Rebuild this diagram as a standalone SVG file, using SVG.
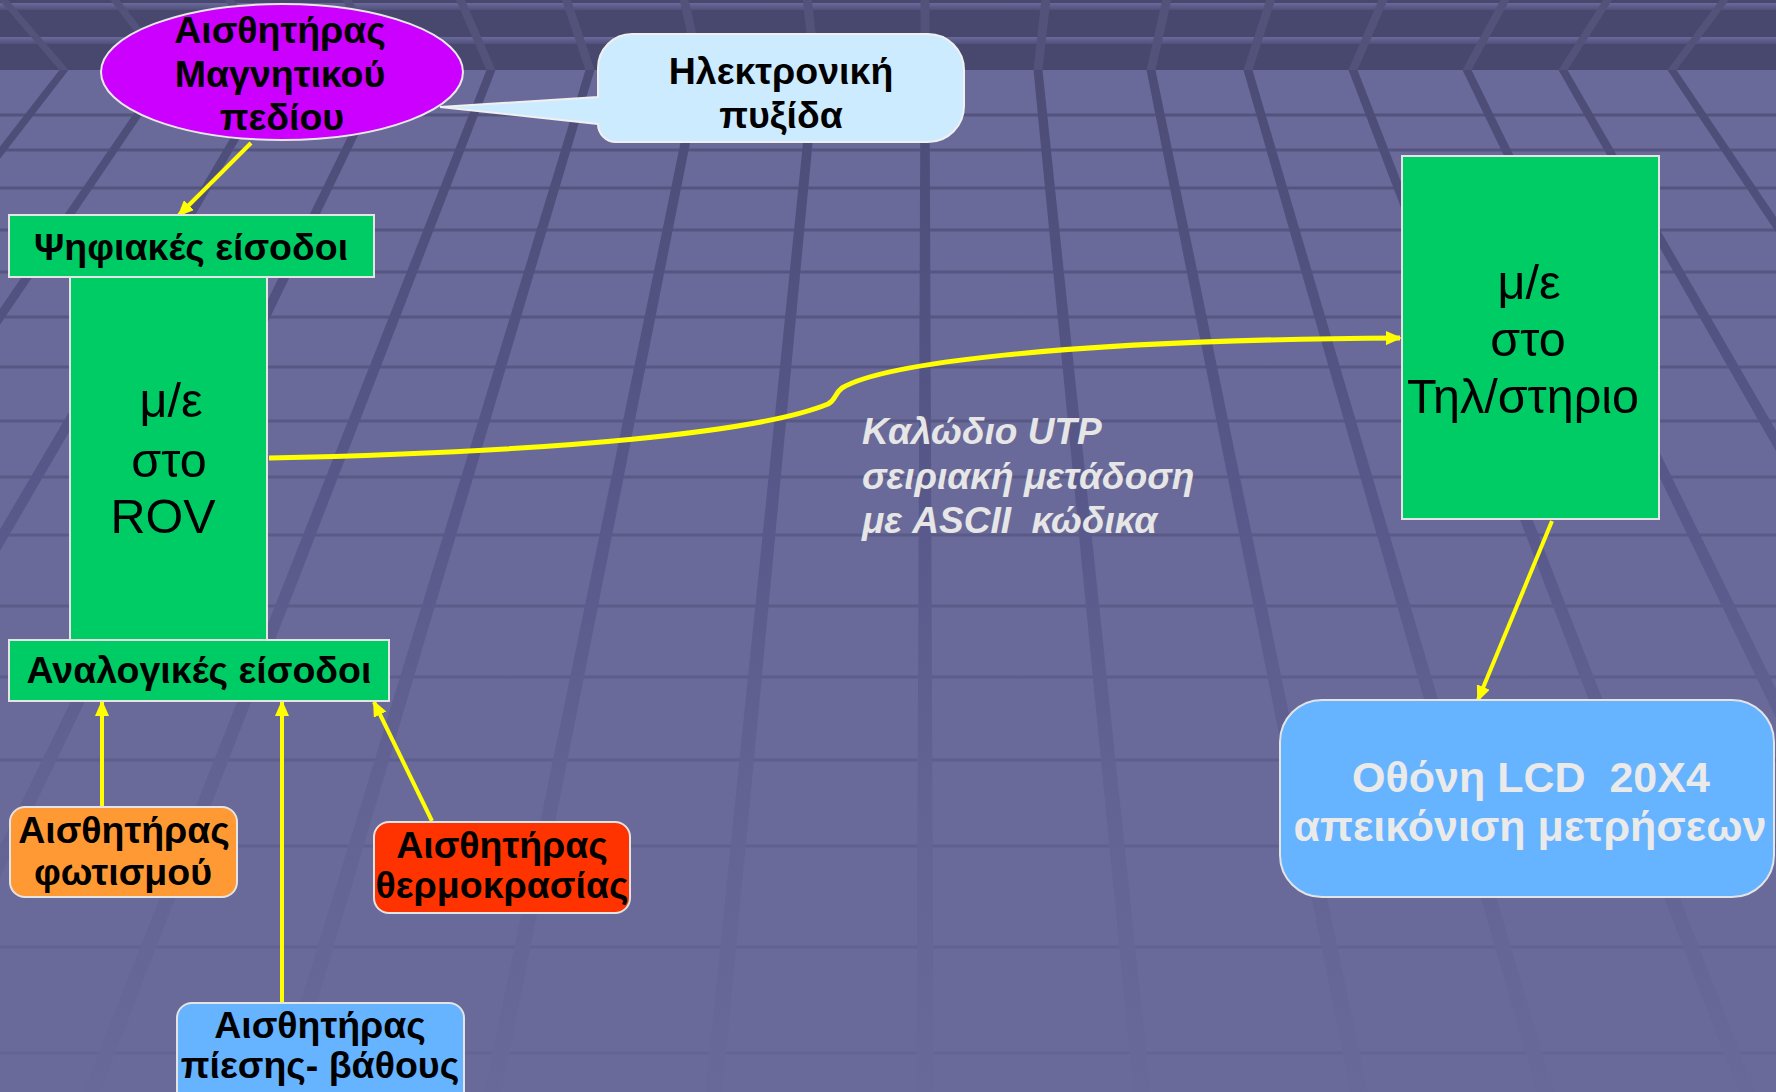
<svg xmlns="http://www.w3.org/2000/svg" width="1776" height="1092" viewBox="0 0 1776 1092">
<defs>
<style>
.b{font-family:"Liberation Sans",Arial,sans-serif;font-weight:bold;font-size:37.5px;text-anchor:middle;fill:#000}
.r{font-family:"Liberation Sans",Arial,sans-serif;font-size:48.5px;text-anchor:middle;fill:#000}
.w{font-family:"Liberation Sans",Arial,sans-serif;font-weight:bold;font-size:43px;text-anchor:middle;fill:#EAEAEA}
.i{font-family:"Liberation Sans",Arial,sans-serif;font-weight:bold;font-style:italic;font-size:37px;fill:#E6E6E6}
.box{stroke:#E4E4E4;stroke-width:2}
.green{fill:#00CC66}
.conn{fill:none;stroke:#FFFF00;stroke-width:4;marker-end:url(#ah)}
.vl{fill:url(#vg)}
.bl{fill:#52527B}
.hl{stroke:url(#hg);stroke-width:3}
</style>
<linearGradient id="vg" gradientUnits="userSpaceOnUse" x1="0" y1="70" x2="0" y2="1092">
<stop offset="0" stop-color="#4C4C76"/>
<stop offset="0.4" stop-color="#575789"/>
<stop offset="0.7" stop-color="#626293"/>
<stop offset="1" stop-color="#686899"/>
</linearGradient>
<linearGradient id="hg" gradientUnits="userSpaceOnUse" x1="0" y1="70" x2="0" y2="1092">
<stop offset="0" stop-color="#52527C"/>
<stop offset="0.5" stop-color="#5B5B89"/>
<stop offset="1" stop-color="#656595"/>
</linearGradient>
<linearGradient id="sg" x1="0" y1="0" x2="0" y2="1">
<stop offset="0" stop-color="#6A6A9C"/>
<stop offset="1" stop-color="#50507A"/>
</linearGradient>
<marker id="ah" markerUnits="userSpaceOnUse" markerWidth="16" markerHeight="14" refX="14" refY="7" orient="auto">
<path d="M0,0 L16,7 L0,14 Z" fill="#FFFF00"/>
</marker>
</defs>

<g id="background">
<rect x="0" y="0" width="1776" height="1092" fill="#6A6A9A"/>
<rect x="0" y="0" width="1776" height="70" fill="#48486F"/>
<rect x="0" y="3" width="1776" height="7" fill="url(#sg)"/>
<rect x="0" y="37" width="1776" height="7" fill="url(#sg)"/>
<g id="band-lines" class="bl">
<polygon points="-0.8,0 8.2,0 68.5,70 59.5,70"/>
<polygon points="110.5,0 119.5,0 172.5,70 163.5,70"/>
<polygon points="225,0 234,0 279.5,70 270.5,70"/>
<polygon points="342.7,0 351.7,0 389.5,70 380.5,70"/>
<polygon points="456,0 465,0 495.5,70 486.5,70"/>
<polygon points="562,0 571,0 594.5,70 585.5,70"/>
<polygon points="679.7,0 688.7,0 704.5,70 695.5,70"/>
<polygon points="802.8,0 811.8,0 819.5,70 810.5,70"/>
<polygon points="920.5,0 929.5,0 929.5,70 920.5,70"/>
<polygon points="1041.4,0 1050.4,0 1042.5,70 1033.5,70"/>
<polygon points="1162.3,0 1171.3,0 1155.5,70 1146.5,70"/>
<polygon points="1266.1,0 1275.1,0 1252.5,70 1243.5,70"/>
<polygon points="1378.5,0 1387.5,0 1357.5,70 1348.5,70"/>
<polygon points="1500.5,0 1509.5,0 1471.5,70 1462.5,70"/>
<polygon points="1603.2,0 1612.2,0 1567.5,70 1558.5,70"/>
<polygon points="1719.8,0 1728.8,0 1676.5,70 1667.5,70"/>
</g>
<g id="grid-h" class="hl">
<line x1="0" y1="115" x2="1776" y2="115"/>
<line x1="0" y1="150" x2="1776" y2="150"/>
<line x1="0" y1="188" x2="1776" y2="188"/>
<line x1="0" y1="230" x2="1776" y2="230"/>
<line x1="0" y1="272" x2="1776" y2="272"/>
<line x1="0" y1="317" x2="1776" y2="317"/>
<line x1="0" y1="367" x2="1776" y2="367"/>
<line x1="0" y1="421" x2="1776" y2="421"/>
<line x1="0" y1="477" x2="1776" y2="477"/>
<line x1="0" y1="535" x2="1776" y2="535"/>
<line x1="0" y1="606" x2="1776" y2="606"/>
<line x1="0" y1="677" x2="1776" y2="677"/>
<line x1="0" y1="760" x2="1776" y2="760"/>
<line x1="0" y1="846" x2="1776" y2="846"/>
<line x1="0" y1="947" x2="1776" y2="947"/>
<line x1="0" y1="1053" x2="1776" y2="1053"/>
</g>
<g id="grid-v" class="vl">
<polygon points="59.5,70 68.5,70 -719.4,1092 -736.6,1092"/>
<polygon points="163.5,70 172.5,70 -519.4,1092 -536.6,1092"/>
<polygon points="270.5,70 279.5,70 -314.4,1092 -331.6,1092"/>
<polygon points="380.5,70 389.5,70 -103.4,1092 -120.6,1092"/>
<polygon points="486.5,70 495.5,70 100.3,1092 83.1,1092"/>
<polygon points="585.5,70 594.5,70 290.4,1092 273.2,1092"/>
<polygon points="695.5,70 704.5,70 501.6,1092 484.4,1092"/>
<polygon points="810.5,70 819.5,70 722.4,1092 705.2,1092"/>
<polygon points="920.5,70 929.5,70 933.6,1092 916.4,1092"/>
<polygon points="1033.5,70 1042.5,70 1150.6,1092 1133.4,1092"/>
<polygon points="1146.5,70 1155.5,70 1367.5,1092 1350.3,1092"/>
<polygon points="1243.5,70 1252.5,70 1553.8,1092 1536.6,1092"/>
<polygon points="1348.5,70 1357.5,70 1755.4,1092 1738.2,1092"/>
<polygon points="1462.5,70 1471.5,70 1974.2,1092 1957,1092"/>
<polygon points="1558.5,70 1567.5,70 2158.6,1092 2141.4,1092"/>
<polygon points="1667.5,70 1676.5,70 2367.8,1092 2350.6,1092"/>
</g>
</g>

<g id="connectors">
<path class="conn" d="M251,143 L179,215"/>
<path class="conn" style="stroke-width:5" d="M269,458 C560,452 760,432 828,404 C836,400 834,394 842,388 C880,365 1050,340 1400,338"/>
<path class="conn" d="M1552,521 L1478,700"/>
<path class="conn" d="M102,806 L102,702"/>
<path class="conn" d="M282,1003 L282,702"/>
<path class="conn" d="M432,821 L374,702"/>
</g>

<g id="magnetic-sensor">
<ellipse cx="282" cy="72" rx="181" ry="68" fill="#CC00FF" stroke="#E8E8E8" stroke-width="2"/>
<text class="b" x="280" y="43">Αισθητήρας</text>
<text class="b" x="280" y="87">Μαγνητικού</text>
<text class="b" x="282" y="130">πεδίου</text>
</g>

<g id="compass-callout">
<path d="M632,34 H928 A36,36 0 0 1 964,70 V106 A36,36 0 0 1 928,142 H616 A18,18 0 0 1 598,124 L440,107 L598,97 V68 A34,34 0 0 1 632,34 Z" fill="#CCEBFF" stroke="#F0F0F0" stroke-width="2"/>
<text class="b" x="781" y="84">Ηλεκτρονική</text>
<text class="b" x="781" y="128">πυξίδα</text>
</g>

<g id="digital-inputs">
<rect class="box green" x="9" y="215" width="365" height="62"/>
<text class="b" x="191" y="260">Ψηφιακές είσοδοι</text>
</g>

<g id="rov-mcu">
<rect class="box green" x="70" y="277" width="197" height="363"/>
<text class="r" x="171" y="417">μ/ε</text>
<text class="r" x="169" y="477">στο</text>
<text class="r" x="163" y="533">ROV</text>
</g>

<g id="analog-inputs">
<rect class="box green" x="9" y="640" width="380" height="61"/>
<text class="b" x="199" y="683">Αναλογικές είσοδοι</text>
</g>

<g id="light-sensor">
<rect class="box" x="10" y="807" width="227" height="90" rx="15" fill="#FF9933"/>
<text class="b" x="124" y="843">Αισθητήρας</text>
<text class="b" x="123" y="885">φωτισμού</text>
</g>

<g id="temp-sensor">
<rect class="box" x="374" y="822" width="256" height="91" rx="15" fill="#FF3300"/>
<text class="b" x="502" y="858">Αισθητήρας</text>
<text class="b" x="502" y="898">θερμοκρασίας</text>
</g>

<g id="pressure-sensor">
<rect class="box" x="177" y="1003" width="287" height="110" rx="15" fill="#66B3FF"/>
<text class="b" x="320" y="1038">Αισθητήρας</text>
<text class="b" x="320" y="1078">πίεσης- βάθους</text>
</g>

<g id="station-mcu">
<rect class="box green" x="1402" y="156" width="257" height="363"/>
<text class="r" x="1529" y="299">μ/ε</text>
<text class="r" x="1528" y="356">στο</text>
<text class="r" x="1523" y="413">Τηλ/στηριο</text>
</g>

<g id="lcd">
<rect class="box" x="1280" y="700" width="494" height="197" rx="42" fill="#66B3FF"/>
<text class="w" x="1531" y="792" xml:space="preserve">Οθόνη LCD  20X4</text>
<text class="w" x="1530" y="841">απεικόνιση μετρήσεων</text>
</g>

<g id="cable-label">
<text class="i" x="862" y="444">Καλώδιο UTP</text>
<text class="i" x="862" y="489">σειριακή μετάδοση</text>
<text class="i" x="862" y="533" xml:space="preserve">με ASCII  κώδικα</text>
</g>
</svg>
